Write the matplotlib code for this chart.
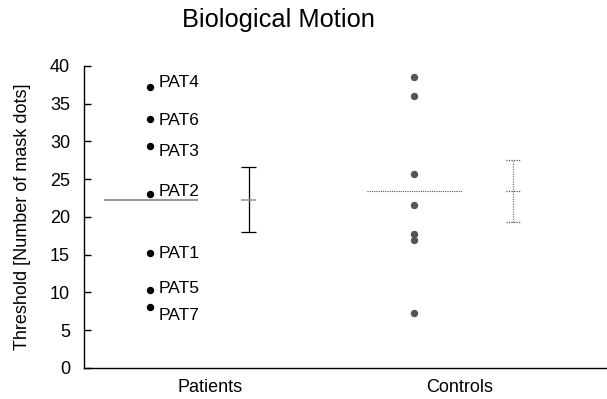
import matplotlib.pyplot as plt

plt.rcParams["font.family"] = ["Liberation Sans", "DejaVu Sans"]

# group labels and their position on the x axis (axis runs 0..1)
groups = ["Patients", "Controls"]
group_x = [0.241, 0.719]

# individual thresholds
patient_ids = ["PAT4", "PAT6", "PAT3", "PAT2", "PAT1", "PAT5", "PAT7"]
patient_vals = [37.2, 33.0, 29.4, 23.0, 15.2, 10.3, 8.1]
control_vals = [38.5, 36.0, 25.7, 21.6, 17.7, 17.0, 7.3]

# group means and error bar ends
means = [22.3, 23.4]
err_low = [18.0, 19.3]
err_high = [26.6, 27.5]

# small vertical nudges for the patient labels (points)
label_dy = [3, -1, -4, 2, 0, 1.5, -6]

fig = plt.figure(figsize=(6.07, 3.99), dpi=100)
ax = fig.add_axes([0.1384, 0.0777, 0.8616, 0.757])

dot_x = [0.126, 0.631]
mean_span = [(0.038, 0.218), (0.541, 0.723)]
bar_x = [0.315, 0.820]
cap = 0.014

# patients
ax.plot([dot_x[0]] * len(patient_vals), patient_vals, "o", color="black",
        markersize=4.3, linestyle="none", zorder=3)
for name, v, dy in zip(patient_ids, patient_vals, label_dy):
    ax.annotate(name, (dot_x[0], v), xytext=(6, dy), textcoords="offset points",
                ha="left", va="center", fontsize=12.5)
ax.hlines(means[0], *mean_span[0], color="#9a9a9a", linewidth=1.5)
ax.vlines(bar_x[0], err_low[0], err_high[0], color="black", linewidth=0.9)
ax.hlines([err_low[0], err_high[0]], bar_x[0] - cap, bar_x[0] + cap,
          color="black", linewidth=0.9)
ax.hlines(means[0], bar_x[0] - cap, bar_x[0] + cap, color="#9a9a9a", linewidth=1.2)

# controls
ax.plot([dot_x[1]] * len(control_vals), control_vals, "o", color="#555555",
        markersize=4.3, linestyle="none", zorder=3)
ax.hlines(means[1], *mean_span[1], color="#555555", linewidth=0.8,
          linestyle=(0, (1, 1)))
ax.vlines(bar_x[1], err_low[1], err_high[1], color="#777777", linewidth=0.9,
          linestyle=(0, (1, 1)))
ax.hlines([err_low[1], err_high[1], means[1]], bar_x[1] - cap, bar_x[1] + cap,
          color="#555555", linewidth=0.9, linestyle=(0, (1, 1)))

ax.set_xlim(0, 1)
ax.set_ylim(0, 40)
ax.set_yticks(range(0, 41, 5))
ax.set_xticks(group_x)
ax.set_xticklabels(groups)
ax.tick_params(axis="y", direction="in", length=5, width=1, pad=10, labelsize=13)
ax.tick_params(axis="x", length=0, pad=8, labelsize=13)
ax.set_ylabel("Threshold [Number of mask dots]", fontsize=13, labelpad=14)

ax.spines["top"].set_visible(False)
ax.spines["right"].set_visible(False)
ax.spines["left"].set_linewidth(1)
ax.spines["bottom"].set_linewidth(1)

fig.text(0.458, 0.95, "Biological Motion", ha="center", va="center", fontsize=18.3)

fig.savefig("out.png", dpi=100)
